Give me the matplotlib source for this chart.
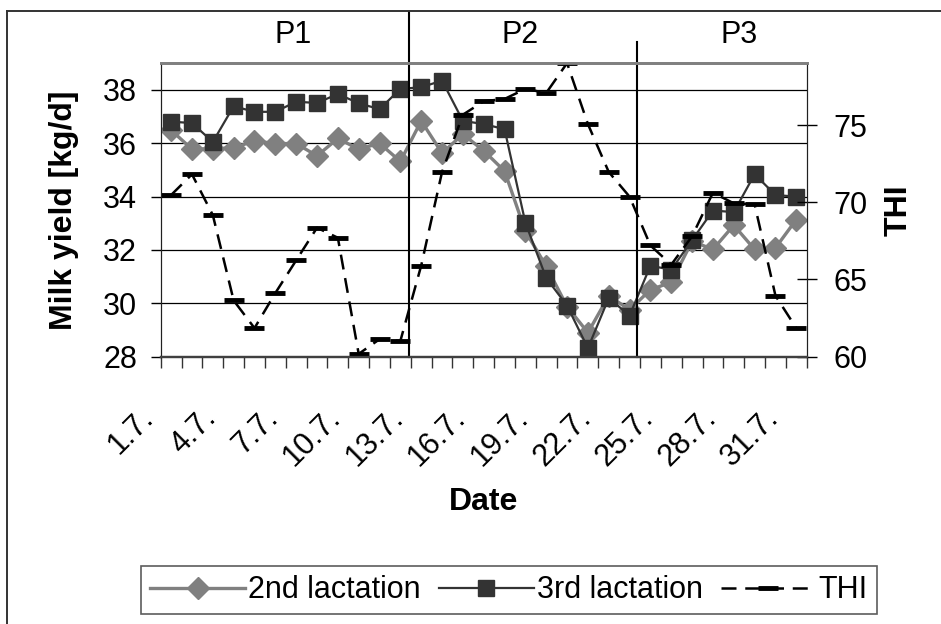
import matplotlib
matplotlib.use("Agg")
import matplotlib.pyplot as plt
from matplotlib.lines import Line2D
from matplotlib.transforms import ScaledTranslation

plt.rcParams['font.family'] = ['Liberation Sans', 'DejaVu Sans']

# data (1.7. - 31.7.)
dates = [f'{d}.7.' for d in range(1, 32)]
lact2 = [36.49, 35.78, 35.80, 35.83, 36.09, 35.99, 35.99, 35.53, 36.18, 35.78, 36.00,
         35.32, 36.84, 35.63, 36.34, 35.72, 34.96, 32.70, 31.39, 29.88, 28.90, 30.28,
         29.76, 30.51, 30.79, 32.33, 32.02, 32.93, 32.02, 32.08, 33.14]
lact3 = [36.81, 36.76, 36.05, 37.39, 37.18, 37.18, 37.56, 37.51, 37.85, 37.50, 37.28,
         38.04, 38.10, 38.35, 36.84, 36.72, 36.53, 33.02, 30.95, 29.91, 28.32, 30.20,
         29.54, 31.41, 31.26, 32.37, 33.48, 33.42, 34.84, 34.06, 34.00]
thi = [70.47, 71.81, 69.17, 63.64, 61.85, 64.12, 66.24, 68.35, 67.70, 60.18, 61.13,
       61.02, 65.90, 71.96, 75.67, 76.54, 76.69, 77.34, 77.08, 79.01, 75.06, 71.96,
       70.36, 67.20, 65.96, 67.80, 70.62, 69.93, 69.86, 63.95, 61.85]
periods = ['P1', 'P2', 'P3']
period_label_x = [5.85, 16.74, 27.25]
period_breaks = [11.4, 22.37]

x = list(range(len(dates)))

fig = plt.figure(figsize=(9.41, 6.24), dpi=100)
ax = fig.add_axes([0.1708, 0.4284, 0.6865, 0.4702])
ax2 = ax.twinx()

# outer frame (only left and top visible in the crop)
fig.add_artist(Line2D([0.0074, 0.0074], [0.0, 0.9824], transform=fig.transFigure,
                      color='#333333', lw=1.4))
fig.add_artist(Line2D([0.0074, 1.0], [0.9824, 0.9824], transform=fig.transFigure,
                      color='#333333', lw=1.4))

l2, = ax.plot(x, lact2, color='#808080', lw=2.4, marker='D', ms=11,
              mfc='#808080', mec='#808080', label='2nd lactation')
l3, = ax.plot(x, lact3, color='#333333', lw=1.6, marker='s', ms=11,
              mfc='#333333', mec='#333333', label='3rd lactation')
lt, = ax2.plot(x, thi, color='black', lw=1.8, ls=(0, (6, 3.5)), marker='_', ms=14,
               mew=3.5, label='THI')

ax.set_xlim(-0.5, len(dates) - 0.5)
ax.set_ylim(28, 39)
ax2.set_ylim(60, 79)
ax.set_yticks([28, 30, 32, 34, 36, 38])
ax2.set_yticks([60, 65, 70, 75])
ax.yaxis.grid(True, color='black', lw=0.9)
ax.set_axisbelow(True)

ax.set_xticks(x[::3])
ax.set_xticklabels(dates[::3], rotation=45, ha='right', va='top')
ax.set_xticks([i - 0.5 for i in range(len(dates) + 1)], minor=True)
ax.tick_params(axis='x', which='major', length=0, pad=33, labelsize=22)
ax.tick_params(axis='x', which='minor', length=8, width=1, color='#333333',
               direction='out')
ax.tick_params(axis='y', length=7, width=1, direction='out', pad=10, labelsize=22)
ax2.tick_params(axis='y', length=14, width=1, direction='inout', pad=12, labelsize=22)
offset = ScaledTranslation(-12 / 100, 0, fig.dpi_scale_trans)
for lab in ax.get_xticklabels():
    lab.set_transform(lab.get_transform() + offset)

for a in (ax, ax2):
    a.spines['top'].set_color('#808080')
    a.spines['top'].set_linewidth(2)
    a.spines['bottom'].set_color('#404040')
    a.spines['bottom'].set_linewidth(1.6)
    a.spines['left'].set_color('#202020')
    a.spines['right'].set_color('#202020')

ax.set_ylabel('Milk yield [kg/d]', fontsize=23, fontweight='bold', va='center')
ax.yaxis.set_label_coords(-0.1497, 0.5)
ax2.set_ylabel('THI', fontsize=23, fontweight='bold', va='center', rotation=90)
ax2.yaxis.set_label_coords(1.143, 0.5)
ax.set_xlabel('Date', fontsize=23, fontweight='bold', va='center')
ax.xaxis.set_label_coords(0.5, -0.495)

# period separators and labels
xt = ax.get_xaxis_transform()
ax.plot([period_breaks[0]] * 2, [0, 1.175], transform=xt, color='black', lw=1.5,
        clip_on=False)
ax.plot([period_breaks[1]] * 2, [0, 1.0726], transform=xt, color='black', lw=1.5,
        clip_on=False)
for px, name in zip(period_label_x, periods):
    ax.text(px, 1.095, name, transform=xt, ha='center', va='center', fontsize=22)

leg = fig.legend(handles=[l2, l3, lt], loc='center', bbox_to_anchor=(0.541, 0.054),
                 ncol=3, fontsize=22, frameon=True, fancybox=False, edgecolor='#333333',
                 handlelength=3.1, handletextpad=0.1, columnspacing=0.6,
                 borderpad=0.3, borderaxespad=0)
leg.get_frame().set_linewidth(1.2)

fig.savefig('out.png', dpi=100)
